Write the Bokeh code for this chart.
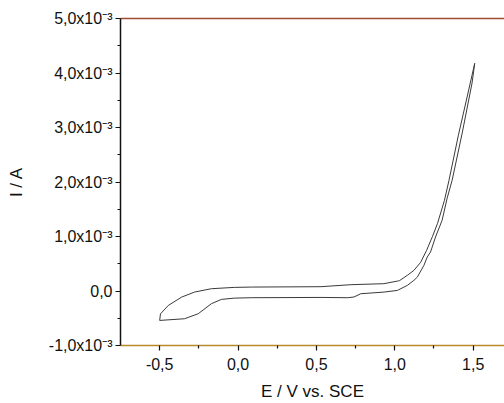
from bokeh.plotting import figure
from bokeh.models import LinearAxis, FixedTicker, CustomJSTickFormatter, Range1d
from bokeh.embed import file_html
from bokeh.resources import INLINE

# Potential (V vs. SCE) along the scan: anodic branch then return branch
E_scan = [-0.50, -0.495, -0.445, -0.36, -0.278, -0.17, -0.024, 0.084, 0.529, 0.72, 0.93,
          1.017, 1.03, 1.08, 1.122, 1.165, 1.203, 1.241, 1.273, 1.317, 1.346, 1.406, 1.457, 1.510,
          1.493, 1.43, 1.366, 1.334, 1.302, 1.26, 1.228, 1.207, 1.186, 1.144, 1.122, 1.08, 1.017,
          0.931, 0.783, 0.74, 0.70, 0.529, 0.084, -0.024, -0.106, -0.17, -0.254, -0.341, -0.50]
# Current (A)
I_scan = [-0.54e-3, -0.42e-3, -0.265e-3, -0.112e-3, -0.02e-3, 0.042e-3, 0.066e-3, 0.072e-3,
          0.079e-3, 0.116e-3, 0.134e-3, 0.182e-3, 0.19e-3, 0.287e-3, 0.379e-3, 0.526e-3,
          0.746e-3, 1.004e-3, 1.243e-3, 1.665e-3, 2.033e-3, 2.86e-3, 3.504e-3, 4.178e-3,
          3.816e-3, 2.897e-3, 2.033e-3, 1.702e-3, 1.298e-3, 0.991e-3, 0.715e-3, 0.623e-3,
          0.471e-3, 0.256e-3, 0.195e-3, 0.103e-3, 0.011e-3, -0.02e-3, -0.05e-3, -0.11e-3,
          -0.123e-3, -0.118e-3, -0.123e-3, -0.131e-3, -0.154e-3, -0.233e-3, -0.417e-3,
          -0.509e-3, -0.54e-3]

x_ticks = [-0.5, 0.0, 0.5, 1.0, 1.5]
x_labels = ["-0,5", "0,0", "0,5", "1,0", "1,5"]
x_minor = [-0.25, 0.25, 0.75, 1.25]
y_ticks = [-1e-3, 0.0, 1e-3, 2e-3, 3e-3, 4e-3, 5e-3]
y_labels = ["-1,0x10\u207b\u00b3", "0,0", "1,0x10\u207b\u00b3", "2,0x10\u207b\u00b3",
            "3,0x10\u207b\u00b3", "4,0x10\u207b\u00b3", "5,0x10\u207b\u00b3"]
y_minor = [-0.5e-3, 0.5e-3, 1.5e-3, 2.5e-3, 3.5e-3, 4.5e-3]

FONT = "Liberation Sans"

p = figure(width=504, height=403, output_backend="svg", toolbar_location=None,
           x_range=Range1d(-0.75, 1.70), y_range=Range1d(-1e-3, 5e-3),
           min_border_left=120, min_border_top=18, min_border_right=0,
           min_border_bottom=58,
           x_axis_label="E / V vs. SCE", y_axis_label="I / A")
p.outline_line_color = None
p.grid.visible = False
p.background_fill_color = "white"
p.border_fill_color = "white"

p.line(E_scan, I_scan, line_color="#3a3a3a", line_width=1)

fmt_js = """
let best = 0;
for (let i = 0; i < tk.length; i++) {
  if (Math.abs(tk[i] - tick) < Math.abs(tk[best] - tick)) best = i;
}
return lb[best];
"""

xa = p.xaxis[0]
xa.ticker = FixedTicker(ticks=x_ticks, minor_ticks=x_minor)
xa.formatter = CustomJSTickFormatter(args=dict(tk=x_ticks, lb=x_labels), code=fmt_js)
ya = p.yaxis[0]
ya.ticker = FixedTicker(ticks=y_ticks, minor_ticks=y_minor)
ya.formatter = CustomJSTickFormatter(args=dict(tk=y_ticks, lb=y_labels), code=fmt_js)

for ax in (xa, ya):
    ax.major_label_text_font = FONT
    ax.major_label_text_font_size = "16px"
    ax.major_label_text_color = "#111111"
    ax.axis_label_text_font = FONT
    ax.axis_label_text_font_size = "17px"
    ax.axis_label_text_font_style = "normal"
    ax.axis_label_text_color = "#111111"
    ax.major_tick_in = 0
    ax.major_tick_out = 5
    ax.minor_tick_in = 0
    ax.minor_tick_out = 3
    ax.major_tick_line_color = "#111111"
    ax.minor_tick_line_color = "#111111"
    ax.major_tick_line_width = 1.2
    ax.minor_tick_line_width = 1.2

xa.axis_line_color = "#b88a2a"
xa.axis_line_width = 1.5
xa.major_label_standoff = 7
xa.axis_label_standoff = 9
ya.axis_line_color = "#111111"
ya.axis_line_width = 1.5
ya.major_label_standoff = 3
ya.axis_label_standoff = 20

top = LinearAxis(ticker=FixedTicker(ticks=[]), major_label_text_font_size="0px",
                 major_tick_line_color=None, minor_tick_line_color=None,
                 axis_line_color="#a04a30", axis_line_width=1.5)
p.add_layout(top, "above")

open("out.html", "w").write(file_html(p, INLINE))
